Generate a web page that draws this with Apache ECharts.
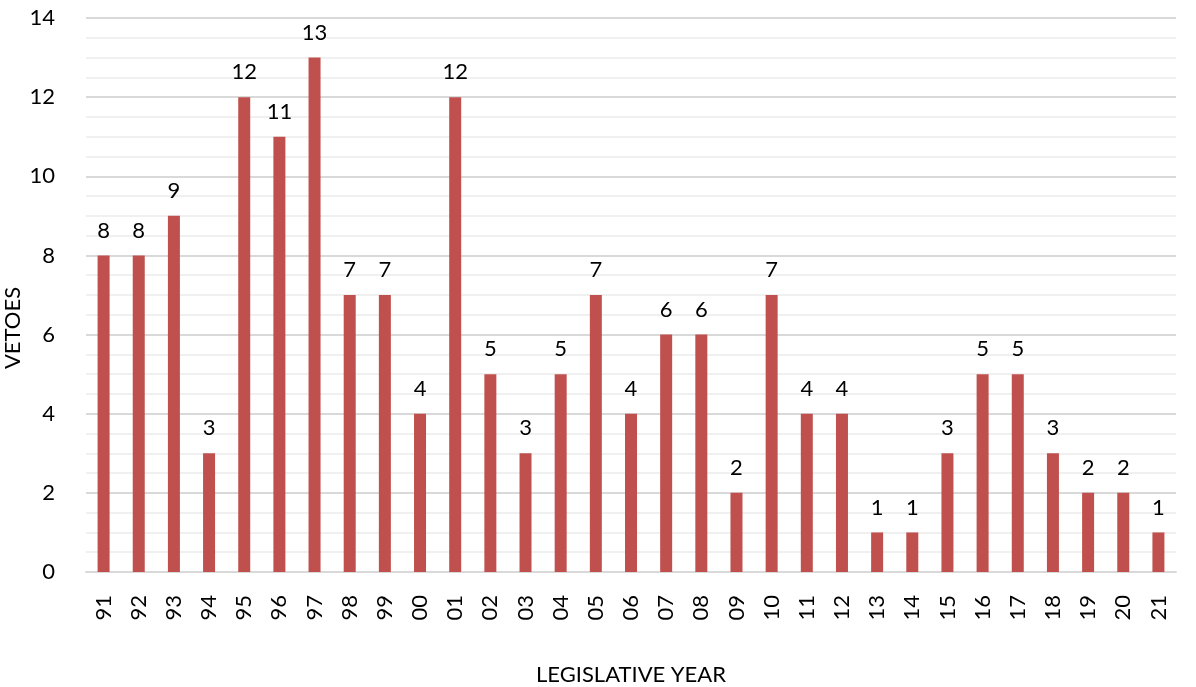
<!DOCTYPE html>
<html><head><meta charset="utf-8">
<script src="https://cdn.jsdelivr.net/npm/echarts@6/dist/echarts.min.js"></script>
<style>html,body{margin:0;padding:0;background:#fff}#c{width:1196px;height:687px}</style>
</head><body><div id="c"></div>
<script>
const years = ['91','92','93','94','95','96','97','98','99','00','01','02','03','04','05','06','07','08','09','10','11','12','13','14','15','16','17','18','19','20','21'];
const vetoes = [8,8,9,3,12,11,13,7,7,4,12,5,3,5,7,4,6,6,2,7,4,4,1,1,3,5,5,3,2,2,1];
const yTicks = {min:0, max:14, interval:2};
const FONT = 'Lato, "Open Sans", sans-serif';
const FS = 22;
const chart = echarts.init(document.getElementById('c'));
chart.setOption({
  animation:false,
  grid:{left:86,right:20,top:18,bottom:115,containLabel:false,outerBoundsMode:'none'},
  xAxis:{type:'category',data:years,
    name:'LEGISLATIVE YEAR',nameLocation:'middle',nameGap:92,nameMoveOverlap:false,
    nameTextStyle:{fontFamily:FONT,fontSize:FS,color:'#000'},
    axisLine:{lineStyle:{color:'#d9d9d9',width:2}},axisTick:{show:false},
    axisLabel:{rotate:90,fontFamily:FONT,fontSize:FS,color:'#000',margin:23}},
  yAxis:{type:'value',min:yTicks.min,max:yTicks.max,interval:yTicks.interval,
    name:'VETOES',nameLocation:'middle',nameGap:62,nameMoveOverlap:false,
    nameTextStyle:{fontFamily:FONT,fontSize:FS,color:'#000',padding:[0,66,0,0]},
    axisLine:{show:false},axisTick:{show:false},
    axisLabel:{fontFamily:FONT,fontSize:FS,color:'#000',margin:31},
    splitLine:{lineStyle:{color:'#d9d9d9',width:2}},
    minorTick:{show:false,splitNumber:4},
    minorSplitLine:{show:true,lineStyle:{color:'#f0f0f0',width:2}}},
  series:[{type:'bar',data:vetoes,barWidth:12,
    itemStyle:{color:'#C0504D'},
    label:{show:true,position:'top',distance:14,fontFamily:FONT,fontSize:FS,color:'#000'}}]
});
</script></body></html>
